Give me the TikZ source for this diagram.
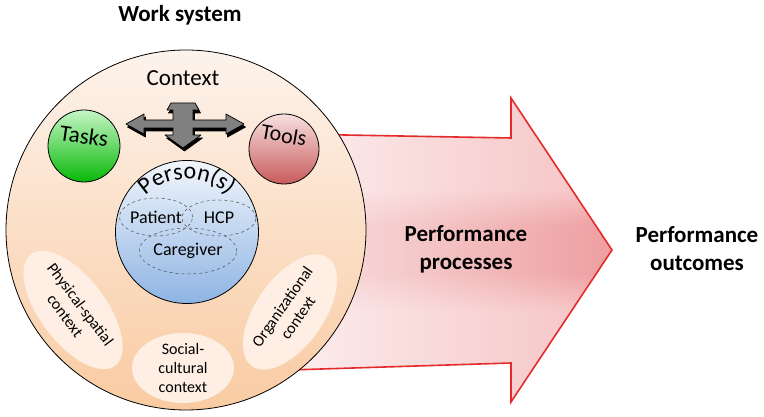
\documentclass[tikz,border=0pt]{standalone}
\usepackage{fontspec}
\setmainfont{Carlito}
\usepackage{tikz}
\usetikzlibrary{positioning,shapes.geometric,decorations.text,fadings}

\definecolor{wstop}{HTML}{FDF3EC}
\definecolor{wsbot}{HTML}{F9CBA2}
\definecolor{ctxfill}{HTML}{FEEEE3}
\definecolor{taskstop}{HTML}{C6F7C6}
\definecolor{tasksbot}{HTML}{08B808}
\definecolor{toolstop}{HTML}{F7E0E0}
\definecolor{toolsbot}{HTML}{C85A5A}
\definecolor{persontop}{HTML}{F2F6FC}
\definecolor{personbot}{HTML}{8EB4E3}
\definecolor{arrowlt}{HTML}{F6C3C4}
\definecolor{arrowmid}{HTML}{EE9FA1}
\definecolor{arrowred}{HTML}{E32B2B}
\definecolor{quadgray}{HTML}{808080}

\pgfdeclareverticalshading{arrowband}{100bp}{color(0bp)=(arrowlt); color(40bp)=(arrowlt);
  color(46bp)=(arrowmid); color(54bp)=(arrowmid); color(60bp)=(arrowlt); color(100bp)=(arrowlt)}
\tikzfading[name=fadeleft, left color=transparent!30, middle color=transparent!100, right color=transparent!100]

\begin{document}
\begin{tikzpicture}[x=1pt,y=1pt,
  ball/.style={circle,draw=black,line width=0.8pt,inner sep=0pt,minimum size=#1},
  ctxblob/.style={ellipse,fill=ctxfill,inner sep=0pt,align=center,font=\fontsize{16}{19}\selectfont},
  member/.style={ellipse,draw=black!70,dashed,line width=0.5pt,inner sep=0pt,font=\fontsize{18}{20}\selectfont},
  bigtext/.style={align=center,font=\fontsize{23}{28}\selectfont\bfseries}]
  \useasboundingbox (0,0) rectangle (764,417);

  \coordinate (a1) at (290,283);
  \coordinate (a2) at (511,279);
  \coordinate (a3) at (511,319);
  \coordinate (tip) at (612,167);
  \coordinate (a5) at (511,15);
  \coordinate (a6) at (511,54);
  \coordinate (a7) at (290,47);
  \draw[arrowred,line width=1.6pt,
    preaction={shading=arrowband,draw=none},
    preaction={fill=white,path fading=fadeleft,draw=none}]
    (a1) -- (a2) -- (a3) -- (tip) -- (a5) -- (a6) -- (a7) -- cycle;

  \node[ball=360pt,top color=wstop,bottom color=wsbot] (ws) at (186,187) {};
  \node[bigtext] (wstitle) at (180,402) {Work system};
  \node[font=\fontsize{23}{23}\selectfont] (ctx) at (183,339) {Context};

  \node[ctxblob,minimum width=128pt,minimum height=66pt,rotate=-53] (phys) at (73,107) {Physical-spatial\\context};
  \node[ctxblob,minimum width=102pt,minimum height=70pt] (soc) at (183,49) {Social-\\cultural\\context};
  \node[ctxblob,minimum width=130pt,minimum height=68pt,rotate=55] (org) at (290,105) {Organizational\\context};

  \node[ball=72pt,top color=taskstop,bottom color=tasksbot] (tasks) at (84,271) {};
  \node[rotate=-8,font=\fontsize{23}{23}\selectfont] at ([yshift=10pt]tasks.center) {Tasks};
  \node[ball=70pt,top color=toolstop,bottom color=toolsbot] (tools) at (284,268) {};
  \node[rotate=-10,font=\fontsize{22}{22}\selectfont] at ([yshift=14pt]tools.center) {Tools};

  \begin{scope}[shift={(183,293)},yscale=-1]
    \foreach \dx/\dy/\col in {1.5/3/black,0/0/quadgray}
      \filldraw[fill=\col,draw=black,line width=0.7pt,line join=round,shift={(\dx,\dy)}]
        (61,0) -- (43,-10) -- (43,-4) -- (10,-4) -- (10,-14) -- (16,-14) -- (12,-21) -- (-12,-21)
        -- (-16,-14) -- (-10,-14) -- (-10,-4) -- (-39,-4) -- (-39,-10) -- (-57,0) -- (-39,10)
        -- (-39,4) -- (-10,4) -- (-10,11) -- (-18,11) -- (0,24) -- (18,11) -- (10,11) -- (10,4)
        -- (43,4) -- (43,10) -- cycle;
  \end{scope}

  \node[ball=143pt,top color=persontop,bottom color=personbot] (person) at (187,185) {};
  \path[decorate,decoration={text along path,text align=center,
    text={|\fontsize{24}{24}\selectfont|Person(s)}}]
    (187,178) ++(134:60) arc[start angle=134,end angle=46,radius=60];
  \node[member,minimum width=72pt,minimum height=38pt] (patient) at (156,200) {Patient};
  \node[member,minimum width=74pt,minimum height=36pt] (hcp) at (219,199) {HCP};
  \node[member,minimum width=90pt,minimum height=46pt] (caregiver) at (188,166) {Caregiver};

  \node[bigtext] (processes) at (466,168) {Performance\\processes};
  \node[bigtext] (outcomes) at (697,168) {Performance\\outcomes};
\end{tikzpicture}
\end{document}
